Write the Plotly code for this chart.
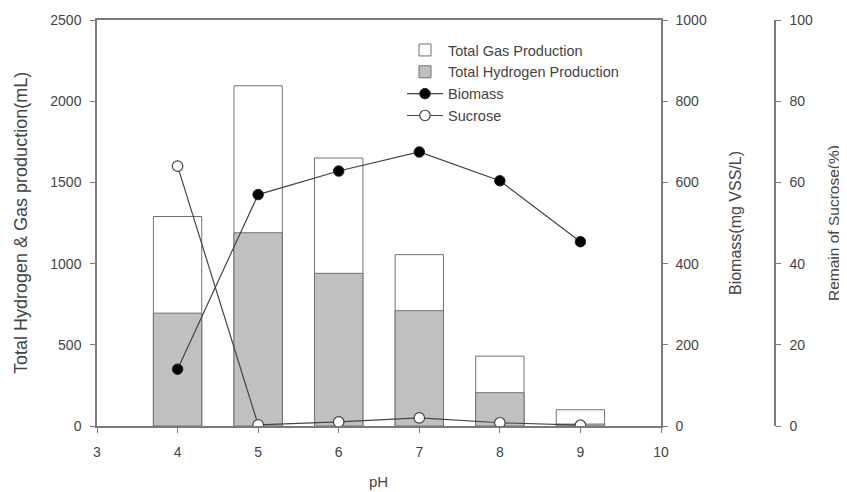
import plotly.graph_objects as go

ph = [4, 5, 6, 7, 8, 9]
total_gas = [1290, 2095, 1650, 1055, 430, 100]
total_h2 = [695, 1190, 940, 710, 205, 12]
biomass = [140, 570, 628, 675, 604, 454]
sucrose = [64, 0.3, 1.0, 2.0, 0.8, 0.2]

OFF = 8  # default page body margin
W, H = 847 - OFF, 492 - OFF
# screen-space target geometry
S_LEFT, S_RIGHT, S_TOP, S_BOTTOM, S_AX3 = 97, 661, 20, 426, 775
L = S_LEFT - OFF
T = S_TOP - OFF
R = W - (S_AX3 - OFF)
B = H - (S_BOTTOM - OFF)
pw = W - L - R
phh = H - T - B
x_end = (S_RIGHT - S_LEFT) / pw

def px(xs):
    return (xs - S_LEFT) / pw

def py(ys):
    return (S_BOTTOM - ys) / phh

FONT = "Liberation Sans, Arial, sans-serif"
TXT = "#444444"
AX = "#7a7a7a"

fig = go.Figure()
fig.add_trace(go.Bar(x=ph, y=total_gas, name="Total Gas Production", width=0.6,
                     marker=dict(color="white", line=dict(color="#707070", width=1))))
fig.add_trace(go.Bar(x=ph, y=total_h2, name="Total Hydrogen Production", width=0.6,
                     marker=dict(color="#c0c0c0", line=dict(color="#707070", width=1))))
fig.add_trace(go.Scatter(x=ph, y=biomass, name="Biomass", yaxis="y2", mode="lines+markers",
                         line=dict(color="#444444", width=1.2),
                         marker=dict(color="black", size=10.5, line=dict(color="#222222", width=1))))
fig.add_trace(go.Scatter(x=ph, y=sucrose, name="Sucrose", yaxis="y3", mode="lines+markers",
                         line=dict(color="#444444", width=1.2),
                         marker=dict(color="white", size=10.5, line=dict(color="#444444", width=1.2))))

tickfont = dict(family=FONT, size=14, color=TXT)
common = dict(showgrid=False, zeroline=False, showline=True, linecolor=AX, linewidth=1.5,
              ticks="outside", ticklen=5, tickcolor=AX, tickwidth=1, tickfont=tickfont,
              automargin=False)

fig.update_layout(
    width=W, height=H,
    margin=dict(l=L, r=R, t=T, b=B, pad=0),
    paper_bgcolor="white", plot_bgcolor="white",
    barmode="overlay",
    showlegend=True,
    legend=dict(x=px(402), y=py(34), xanchor="left", yanchor="top",
                bgcolor="rgba(0,0,0,0)", font=dict(family=FONT, size=14.5, color=TXT),
                tracegroupgap=0, itemwidth=36),
    xaxis=dict(domain=[0, x_end], range=[3, 10], dtick=1, tick0=3, mirror=True,
               ticklabelstandoff=7, **common),
    yaxis=dict(range=[0, 2500], dtick=500, ticklabelstandoff=6, **common),
    yaxis2=dict(range=[0, 1000], dtick=200, overlaying="y", side="right", anchor="x",
                ticklabelstandoff=5, **common),
    yaxis3=dict(range=[0, 100], dtick=20, overlaying="y", side="right", anchor="free",
                position=1.0, ticklabelstandoff=6, **common),
    annotations=[
        dict(text="Total Hydrogen & Gas production(mL)", textangle=-90, xref="paper", yref="paper",
             x=px(21), y=0.5, xanchor="center", yanchor="middle", showarrow=False,
             font=dict(family=FONT, size=18, color=TXT)),
        dict(text="Biomass(mg VSS/L)", textangle=-90, xref="paper", yref="paper",
             x=px(735), y=0.5, xanchor="center", yanchor="middle", showarrow=False,
             font=dict(family=FONT, size=16, color=TXT)),
        dict(text="Remain of Sucrose(%)", textangle=-90, xref="paper", yref="paper",
             x=px(833), y=0.5, xanchor="center", yanchor="middle", showarrow=False,
             font=dict(family=FONT, size=15.5, color=TXT)),
        dict(text="pH", xref="paper", yref="paper", x=px(378), y=py(481),
             xanchor="center", yanchor="middle", showarrow=False,
             font=dict(family=FONT, size=15, color=TXT)),
    ],
)

fig.write_html("out.html")
